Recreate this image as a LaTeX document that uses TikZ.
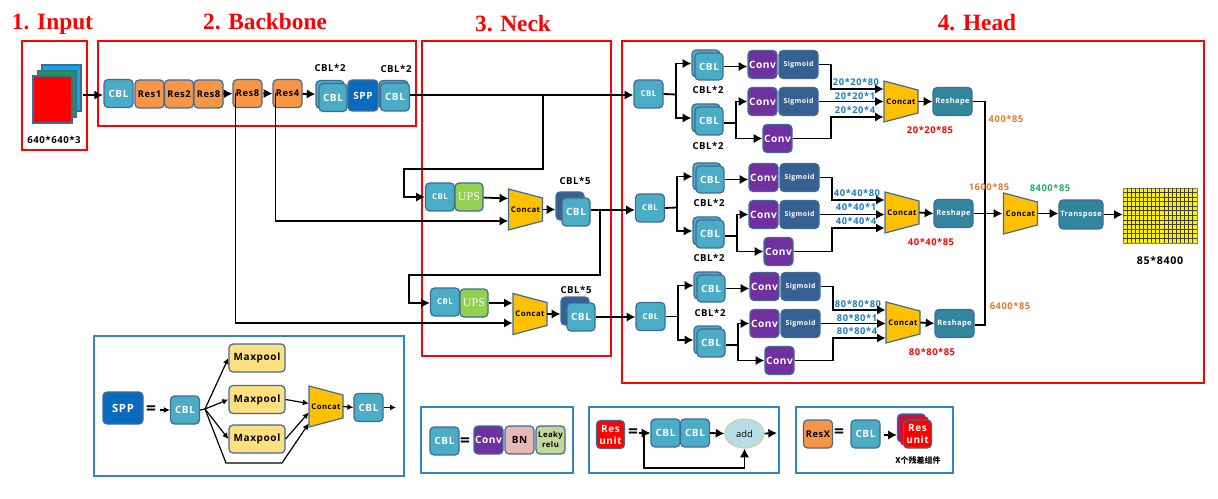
\documentclass[tikz,border=0pt]{standalone}
\usepackage{fontspec}
\setmainfont{Open Sans}
\newfontfamily\titlefont{Liberation Serif}
\newfontfamily\lab[LetterSpace=6]{Open Sans}
\newfontfamily\cjk{Noto Sans CJK SC}
\usetikzlibrary{arrows.meta,calc,positioning,shapes.geometric}
\definecolor{cblc}{HTML}{4BACC6}
\definecolor{edgec}{HTML}{3F6B96}
\definecolor{resc}{HTML}{F79646}
\definecolor{sppc}{HTML}{0A6ABF}
\definecolor{convc}{HTML}{7030A0}
\definecolor{sigc}{HTML}{376092}
\definecolor{shapec}{HTML}{31859C}
\definecolor{concc}{HTML}{FFC000}
\definecolor{upsc}{HTML}{92D050}
\definecolor{bnc}{HTML}{E6B9B8}
\definecolor{leakc}{HTML}{C3D69B}
\definecolor{maxc}{HTML}{FFDF80}
\definecolor{panelc}{HTML}{2E86C8}
\definecolor{dimblue}{HTML}{1F7BC0}
\definecolor{dimorange}{HTML}{E07B2A}
\definecolor{dimgreen}{HTML}{1FAF5F}
\definecolor{addc}{HTML}{B7DEE8}
\definecolor{imgblue}{HTML}{12A5EA}
\definecolor{imggreen}{HTML}{1A9B50}
\tikzset{
  x=0.75pt,y=-0.75pt,
  wh/.style 2 args={minimum width=#1*0.75pt,minimum height=#2*0.75pt},
  block/.style={draw=edgec,line width=0.9pt,rounded corners=3pt,inner sep=0pt,font=\lab\bfseries\fontsize{7.5}{8.5}\selectfont,align=center},
  cblbox/.style={block,fill=cblc,text=white,wh={29}{28}},
  cblsmall/.style={cblbox,font=\lab\bfseries\fontsize{6}{7}\selectfont},
  resbox/.style={block,fill=resc,text=black,wh={29}{28},font=\lab\bfseries\fontsize{7}{8}\selectfont},
  convbox/.style={block,fill=convc,text=white,wh={29}{28},font=\lab\bfseries\fontsize{7.6}{9}\selectfont},
  sigbox/.style={block,fill=sigc,text=white,wh={39}{28},font=\lab\bfseries\fontsize{5.2}{6}\selectfont},
  reshapebox/.style={block,fill=shapec,text=white,wh={39}{28},font=\lab\bfseries\fontsize{5.6}{6}\selectfont},
  upsbox/.style={block,fill=upsc,text=white,wh={29}{28},font=\titlefont\fontsize{9}{10}\selectfont},
  redbox/.style={block,fill=red,text=white,wh={28}{28},font=\lab\bfseries\fontsize{7.5}{9}\selectfont},
  maxbox/.style={block,fill=maxc,text=black,wh={56}{28},font=\lab\bfseries\fontsize{7.5}{9}\selectfont},
  concfill/.style={draw=edgec,fill=concc,line width=0.9pt},
  conctext/.style={inner sep=0pt,wh={34}{41},font=\lab\bfseries\fontsize{5.8}{7}\selectfont,text=black},
  frame/.style={draw=red,line width=1.1pt},
  panel/.style={draw=panelc,line width=1.1pt,fill=white},
  wire/.style={line width=1.35pt,black},
  arr/.style={wire,-{Latex[length=6.5pt,width=7pt]}},
  thinwire/.style={line width=0.9pt,black},
  thinarr/.style={thinwire,-{Latex[length=4.5pt,width=4.5pt]}},
  sect/.style={font=\titlefont\bfseries\fontsize{17.5}{18}\selectfont,text=red,inner sep=0pt},
  dark/.style={font=\lab\bfseries\fontsize{7.2}{8}\selectfont,text=black,inner sep=0pt},
  dimb/.style={font=\lab\bfseries\fontsize{7}{8}\selectfont,text=dimblue,inner sep=0pt},
  dimr/.style={font=\lab\bfseries\fontsize{7}{8}\selectfont,text=red,inner sep=0pt},
  dimo/.style={font=\lab\bfseries\fontsize{7}{8}\selectfont,text=dimorange,inner sep=0pt},
  dimg/.style={font=\lab\bfseries\fontsize{7}{8}\selectfont,text=dimgreen,inner sep=0pt},
  eqs/.style={font=\bfseries\fontsize{13}{14}\selectfont,inner sep=0pt},
}
\newcommand\concatat[3]{%
  \draw[concfill,shift={(#2,#3)}] (-17,-20.5) -- (17,-11.5) -- (17,11.5) -- (-17,20.5) -- cycle;
  \node[conctext] (#1) at (#2,#3) {Concat};}
\begin{document}
\begin{tikzpicture}
\useasboundingbox (0,0) rectangle (1218,499);
% section frames
\node[sect] (t1) at (52.5,24) {1. Input};
\node[sect] (t2) at (265,22) {2. Backbone};
\node[sect] (t3) at (513,24) {3. Neck};
\node[sect] (t4) at (977,23) {4. Head};
\draw[frame] (22,41) rectangle (87,150);
\draw[frame] (98,41) rectangle (416,126);
\draw[frame] (422,41) rectangle (611,356);
\draw[frame] (622,41) rectangle (1204,383);
% input
\draw[edgec,fill=imgblue,line width=0.8pt] (42,65) rectangle (81,111);
\draw[edgec,fill=imggreen,line width=0.8pt] (38,71) rectangle (76,117);
\node[draw=edgec,fill=red,line width=0.8pt,wh={39}{47},inner sep=0pt] (img) at (52.5,99.5) {};
\node[dark] (imgl) at (54,140) {640*640*3};
% backbone
\node[cblbox] (c1) at (118.5,93.5) {CBL};
\node[resbox] (r1) at (149.5,94) {Res1};
\node[resbox] (r2) at (179,94) {Res2};
\node[resbox] (r3) at (208.5,94) {Res8};
\node[resbox] (r4) at (247.5,93.5) {Res8};
\node[resbox] (r5) at (287.5,93.5) {Res4};
\node[cblbox,wh={28}{28}] (c2b) at (330,94.5) {};
\node[cblbox,wh={28}{28}] (c2) at (333,97.5) {CBL};
\node[block,fill=sppc,text=white,wh={30}{31}] (spp) at (363,95.5) {SPP};
\node[cblbox,wh={29}{28}] (c3b) at (393.5,94.5) {};
\node[cblbox,wh={29}{28}] (c3) at (395,97) {CBL};
\node[dark] (c2l) at (330,68) {CBL*2};
\node[dark] (c3l) at (396,69) {CBL*2};
\coordinate (inS) at (83,95);
\coordinate (inE) at (103,95);
\draw[arr] (inS) -- (inE);
\draw[arr] (r3) -- (r4);
\draw[arr] (r4) -- (r5);
\draw[arr] (r5) -- (c2b);
% neck
\node[cblsmall] (n1) at (440,197) {CBL};
\node[upsbox,wh={28}{28}] (u1) at (469,197) {UPS};
\concatat{k1}{525.5}{209.5}
\node[block,fill=sigc,wh={28}{28}] (n1bb) at (570,206) {};
\node[cblbox,wh={28}{28}] (f1) at (576,212) {CBL};
\node[dark] (f1l) at (575,181) {CBL*5};
\node[cblsmall] (n2) at (445,302) {CBL};
\node[upsbox,wh={28}{28}] (u2) at (474,303) {UPS};
\concatat{k2}{530}{314}
\node[block,fill=sigc,wh={28}{28}] (n2bb) at (575,311) {};
\node[cblbox,wh={28}{28}] (f2) at (581,317) {CBL};
\node[dark] (f2l) at (576,290) {CBL*5};
% head: first CBLs
\node[cblsmall] (hA) at (648.5,94) {CBL};
\node[cblsmall] (hB) at (650,208) {CBL};
\node[cblsmall] (hC) at (650.5,316.5) {CBL};
\draw[arr] ($(c3.east)+(0,-2)$) -- ($(hA.west)+(0,1)$);
% feedback lines
\coordinate (b1) at (543,95);
\coordinate (b1a) at (543,169);
\coordinate (b1b) at (404,169);
\coordinate (b1c) at (404,197);
\draw[arr] (b1) -- (b1a) -- (b1b) -- (b1c) -- (n1.west);
\draw[arr] (u1) -- ($(k1.west)+(0,-11)$);
\coordinate (l1) at ($(r5.west)+(3,0)$);
\draw[wire] (l1) -- (l1 |- 0,221) coordinate (l1e);
\draw[arr] (l1e) -- ($(k1.west)+(0,11.5)$);
\draw[arr] (k1.east) -- (n1bb.west |- k1.east);
\draw[arr] ($(f1.east)+(0,-2)$) -- ($(hB.west)+(0,2)$);
\coordinate (b2) at (600,210);
\coordinate (b2a) at (600,275);
\coordinate (b2b) at (409,275);
\coordinate (b2c) at (409,303);
\draw[arr] (b2) -- (b2a) -- (b2b) -- (b2c) -- (n2.west |- b2c);
\draw[arr] (u2) -- ($(k2.west)+(0,-11)$);
\coordinate (l2) at ($(r4.west)+(3,0)$);
\draw[wire] (l2) -- (l2 |- 0,323) coordinate (l2e);
\draw[arr] (l2e) -- ($(k2.west)+(0,9)$);
\draw[arr] (k2.east) -- (n2bb.west |- k2.east);
\draw[arr] (f2.east) -- (hC.west |- f2.east);
% head blocks
\foreach \s/\ldx/\ldy/\rdy/\rdx/\cdy/\dim in {A/0/0/0/0/0/20,B/1/113/112/1/111/40,C/2/222/222/2/221/80}{
  \begin{scope}[shift={(\ldx,\ldy)}]
    \node[cblbox,wh={28}{27}] (tb\s) at (706,63.5) {};
    \node[cblbox,wh={28}{27}] (t\s) at (709,66.5) {CBL};
    \node[cblbox,wh={28}{28}] (bb\s) at (706,118) {};
    \node[cblbox,wh={28}{28}] (b\s) at (709,121) {CBL};
    \node[convbox] (ca\s) at (762.5,64.5) {Conv};
    \node[sigbox] (sa\s) at (798.5,64.5) {Sigmoid};
    \node[convbox] (cb\s) at (762.5,101.5) {Conv};
    \node[sigbox] (sb\s) at (798.5,101.5) {Sigmoid};
    \node[convbox] (cc\s) at (777.5,138.5) {Conv};
    \coordinate (j\s) at (676,94.5);
    \coordinate (q\s) at (736,123);
    \coordinate (r\s) at (831,65);
    \coordinate (w\s) at (831,138.5);
    \draw[arr] (j\s) |- (tb\s.west);
    \draw[arr] (j\s) |- (bb\s.west);
    \draw[arr] (t\s.east) -- (ca\s.west |- t\s.east);
    \draw[wire] (b\s.east |- q\s) -- (q\s);
    \draw[arr] (q\s) |- (cb\s.west);
    \draw[arr] (q\s) |- (cc\s.west);
  \end{scope}
  \begin{scope}[shift={(\rdx,\cdy)}]
    \concatat{o\s}{901}{101.5}
    \node[dimb] (la\s) at (856,82.5) {\dim*\dim*80};
    \node[dimb] (lb\s) at (855,96.5) {\dim*\dim*1};
    \node[dimb] (lc\s) at (855,110) {\dim*\dim*4};
  \end{scope}
  \begin{scope}[shift={(\rdx,\rdy)}]
    \node[reshapebox] (rs\s) at (952.5,101.5) {Reshape};
    \node[dimr] (ld\s) at (930,130) {\dim*\dim*85};
  \end{scope}
  \draw[arr] (sa\s.east) -| (r\s |- sa\s.east) |- ($(o\s.west)+(0,-12.5)$);
  \draw[arr] (sb\s.east) -- (o\s.west |- sb\s.east);
  \draw[arr] (cc\s.east) -| (w\s) |- ($(o\s.west)+(0,15.5)$);
  \draw[arr] (o\s.east) -- (rs\s.west);
}
\draw[wire] (hA.east) -- (jA);
\draw[wire] (hB.east) -- (jB);
\draw[wire] (hC.east) -- (jC);
\node[dark] (la1) at (708,90) {CBL*2};
\node[dark] (la2) at (708,146) {CBL*2};
\node[dark] (lb1) at (709,202.5) {CBL*2};
\node[dark] (lb2) at (709,258) {CBL*2};
\node[dark] (lc1) at (710,313) {CBL*2};
% tail
\concatat{oF}{1020.5}{213.5}
\node[reshapebox,wh={44}{29}] (tr) at (1081,214.5) {Transpose};
\node[draw=gray,fill=yellow,wh={74}{55},inner sep=0pt] (grid) at (1160,215.5) {};
\foreach \i in {1,...,17}{\draw[black!75,line width=0.45pt] ($(grid.north west)+(\i*4.11,0)$) -- ($(grid.south west)+(\i*4.11,0)$);}
\foreach \i in {1,...,11}{\draw[black!75,line width=0.45pt] ($(grid.north west)+(0,\i*4.6)$) -- ($(grid.north east)+(0,\i*4.6)$);}
\coordinate (vt) at (985,101.5);
\coordinate (vb) at (985,325);
\draw[wire] (rsA.east) -- (vt) -- (vb) -- (rsC.east |- vb);
\draw[arr] (rsB.east) -- ($(oF.west)+(-1,0)$);
\draw[arr] (oF.east) -- (tr.west |- oF.east);
\draw[arr] (tr.east) -- (grid.west |- tr.east);
\node[dimo] (q1) at (1006,119) {400*85};
\node[dimo] (q2) at (989,187) {1600*85};
\node[dimg] (q3) at (1050,188) {8400*85};
\node[dimo] (q4) at (1010,306) {6400*85};
\node[dark,font=\lab\bfseries\fontsize{8}{9}\selectfont] (q5) at (1160,260) {85*8400};
% SPP panel
\draw[panel] (94,336) rectangle (404,476);
\node[block,fill=sppc,text=white,wh={40}{32},font=\lab\bfseries\fontsize{8.5}{9}\selectfont] (sppk) at (123,408) {SPP};
\node[eqs] (sppe) at (151,410) {=};
\coordinate (sppi) at (160,410);
\node[cblbox] (s1) at (185,410) {CBL};
\node[maxbox] (m1) at (257,358) {Maxpool};
\node[maxbox] (m2) at (257,399.5) {Maxpool};
\node[maxbox] (m3) at (257,439) {Maxpool};
\concatat{s2}{326}{406.5}
\node[cblbox] (s3) at (368.5,407.5) {CBL};
\coordinate (sf) at (205,409);
\coordinate (sg) at (226,463);
\coordinate (sh) at (282,463);
\coordinate (so) at (396,407.5);
\draw[thinarr] (sppi) -- (s1.west);
\draw[thinwire] (s1.east) -- (sf);
\draw[thinarr] (sf) -- (m1.west);
\draw[thinarr] (sf) -- (m2.west);
\draw[thinarr] (sf) -- (m3.west);
\draw[thinarr] (m2.east) -- ($(s2.west)+(0,-3)$);
\draw[thinarr] (m3.east) -- ($(s2.west)+(0,6)$);
\draw[thinarr] (sf) -- (sg) -- (sh) -- ($(s2.west)+(0,17)$);
\draw[thinarr] (s2.east) -- (s3.west);
\draw[thinarr] (s3.east) -- (so);
% CBL panel
\draw[panel] (421,407) rectangle (573,473);
\node[cblbox] (p1) at (444.5,441) {CBL};
\node[eqs] (p1e) at (465,442) {=};
\node[convbox] (p2) at (488.5,440) {Conv};
\node[block,fill=bnc,text=black,wh={29}{28}] (p3) at (519.5,440) {BN};
\node[block,fill=leakc,text=black,wh={29}{28},font=\lab\bfseries\fontsize{5.8}{7.5}\selectfont] (p4) at (550.5,440) {Leaky\\relu};
% Res unit panel
\draw[panel] (589,407) rectangle (779,473);
\node[redbox] (u0) at (610.5,434.5) {Res\\unit};
\node[eqs] (u0e) at (633,433) {=};
\node[cblbox] (u3) at (665.5,433) {CBL};
\node[cblbox] (u4) at (695,433) {CBL};
\node[draw=leakc,fill=addc,ellipse,line width=0.9pt,wh={39}{29},inner sep=0pt,font=\fontsize{7}{8}\selectfont] (ad) at (744.5,433.5) {add};
\coordinate (ui) at (639,433);
\coordinate (uj) at (644,433);
\coordinate (uo) at (777,433);
\coordinate (uk) at (644,468);
\draw[arr] (ui) -- (u3.west);
\draw[arr] (u4.east) -- (ad.west);
\draw[arr] (ad.east) -- (uo);
\draw[arr] (uj) -- (uk) -| (ad.south);
% ResX panel
\draw[panel] (796,407) rectangle (953,473);
\node[resbox] (x0) at (818,434) {ResX};
\node[eqs] (x0e) at (839,433) {=};
\node[cblbox] (x1) at (865.5,434) {CBL};
\node[block,fill=convc!70!red,wh={28}{28}] (x2a) at (911.5,428) {};
\node[block,fill=red,draw=convc!60!red,wh={28}{28}] (x2b) at (914.5,431) {};
\node[redbox] (x2) at (917.5,434) {Res\\unit};
\node[font=\cjk\bfseries\fontsize{6}{7}\selectfont,inner sep=0pt] (x3) at (918,460) {X个残差组件};
\draw[arr] (x1.east) ++(3,1) coordinate (xs) -- (x2a.west |- xs);
\end{tikzpicture}
\end{document}
